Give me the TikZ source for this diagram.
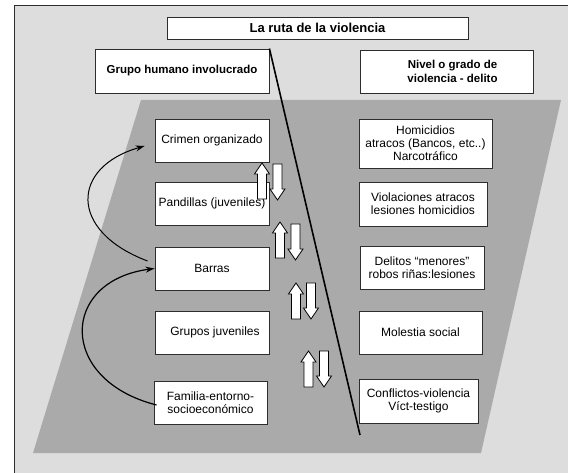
\documentclass[tikz,border=0pt]{standalone}
\usepackage{fontspec}
\setmainfont{Liberation Sans}
\usetikzlibrary{arrows.meta,calc}
\definecolor{bglight}{RGB}{221,221,221}
\definecolor{bgdark}{RGB}{170,170,170}
\definecolor{edgecol}{RGB}{45,45,45}
\tikzset{
  box/.style={draw=edgecol, line width=0.9pt, fill=white, inner sep=1pt, align=center,
    font=\fontsize{12}{13}\selectfont},
  hbox/.style={box, font=\fontsize{11.5}{13.5}\selectfont\bfseries},
  blk/.style={draw=black, line width=0.8pt, fill=white},
  pics/blkup/.style={code={\draw[blk] (0,0) -- (7.5,11) -- (4.5,11) -- (4.5,36) -- (-4.5,36) -- (-4.5,11) -- (-7.5,11) -- cycle;}},
  pics/blkdown/.style={code={\draw[blk] (-4.5,0) -- (4.5,0) -- (4.5,25) -- (7.5,25) -- (0,36) -- (-7.5,25) -- (-4.5,25) -- cycle;}},
  curv/.style={-{Stealth[length=9pt,width=6pt]}, line width=1pt, draw=black},
}
\begin{document}
\begin{tikzpicture}[x=1pt,y=-1pt]
\useasboundingbox (0,0) rectangle (568,473);
\fill[white] (0,0) rectangle (568,473);
\fill[bglight] (14,6) rectangle (568,473);
\draw[edgecol, line width=1pt] (14,473) -- (14,6) -- (568,6);
\fill[bgdark] (141,100) -- (561,100) -- (481,453) -- (33,453) -- cycle;

% header boxes
\node[hbox, font=\fontsize{13}{15}\selectfont\bfseries, minimum width=301pt, minimum height=22pt] (title) at (317.5,28) {La ruta de la violencia};
\node[hbox, minimum width=174pt, minimum height=44pt] (grupo) at (182,71) {Grupo humano involucrado};
\node[hbox, minimum width=173pt, minimum height=43pt] (nivel) at (446.5,71.5) {\hspace*{12pt}Nivel o grado de\\\hspace*{12pt}violencia - delito};

% left column
\node[box, minimum width=114pt, minimum height=43pt] (crimen) at (212,140.5) {Crimen organizado};
\node[box, minimum width=114pt, minimum height=43pt] (pandillas) at (212,203.5) {Pandillas (juveniles)};
\node[box, minimum width=114pt, minimum height=43pt] (barras) at (212,268.5) {Barras};
\node[box, minimum width=114pt, minimum height=43pt] (grupos) at (212,332.5) {\hspace*{6pt}Grupos juveniles};
\node[box, minimum width=113pt, minimum height=43pt] (familia) at (210.5,402.5) {Familia-entorno-\\socioeconómico};

% right column
\node[box, minimum width=133pt, minimum height=49pt] (homic) at (425.5,143.5) {Homicidios\\atracos (Bancos, etc..)\\Narcotráfico};
\node[box, minimum width=128pt, minimum height=44pt] (viol) at (423,204) {Violaciones atracos\\lesiones homicidios};
\node[box, minimum width=124pt, minimum height=43pt] (delitos) at (422,267.5) {Delitos “menores”\\robos riñas:lesiones};
\node[box, minimum width=123pt, minimum height=43pt] (molestia) at (420.5,332.5) {Molestia social};
\node[box, minimum width=119pt, minimum height=44pt] (conflictos) at (418.5,401) {Conflictos-violencia\\Víct-testigo};

% diagonal
\coordinate (diagend) at (360,435);
\draw[line width=1.6pt] (grupo.north east) -- (diagend);

% block arrows
\pic at (262,163) {blkup};
\pic at (277.5,164) {blkdown};
\pic at (280,222) {blkup};
\pic at (295.5,224) {blkdown};
\pic at (296,283) {blkup};
\pic at (311,283) {blkdown};
\pic at (308.5,351) {blkup};
\pic at (324,351) {blkdown};

% curved arrows
\draw[curv] ($(barras.west)+(-7,-7.5)$) .. controls (68,231) and (71,167) .. ($(crimen.west)+(-10,5.5)$);
\draw[curv, line width=1.2pt] ($(familia.west)+(3,2.5)$) .. controls (57.7,380) and (59.7,281) .. (barras.west);
\end{tikzpicture}
\end{document}
